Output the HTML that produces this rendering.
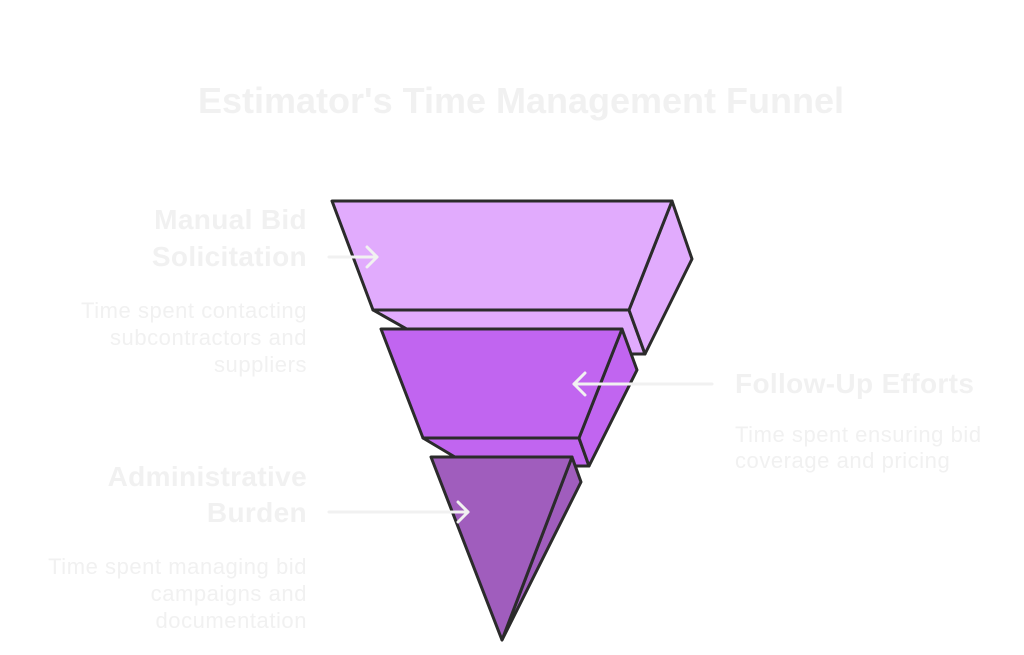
<!DOCTYPE html>
<html>
<head>
<meta charset="utf-8">
<style>
  html,body{margin:0;padding:0;background:#ffffff;}
  svg{display:block;}
  text{font-family:"Liberation Sans", Arial, sans-serif;fill:#f1f1f1;}
  .h{font-weight:bold;font-size:28px;letter-spacing:0.35px;}
  .d{font-size:22px;letter-spacing:0.55px;}
</style>
</head>
<body>
<svg width="1024" height="655" viewBox="0 0 1024 655" xmlns="http://www.w3.org/2000/svg">
  <rect width="1024" height="655" fill="#ffffff"/>

  <!-- Title -->
  <text x="521" y="113" text-anchor="middle" style="font-weight:bold;font-size:36px;">Estimator's Time Management Funnel</text>

  <g stroke="#2b2b2b" stroke-width="3" stroke-linejoin="round">
    <!-- Top segment -->
    <polygon points="373,310 629,310 645,354 451,354" fill="#e1abfd"/>
    <polygon points="672,201 692,259 645,354 629,310" fill="#e1abfd"/>
    <polygon points="332,201 672,201 629,310 373,310" fill="#e1abfd"/>

    <!-- Middle segment -->
    <polygon points="423,438 579,438 589,466 470,466" fill="#c165f0"/>
    <polygon points="622,329 637,370 589,466 579,438" fill="#c165f0"/>
    <polygon points="381,329 622,329 579,438 423,438" fill="#c165f0"/>

    <!-- Bottom triangle -->
    <polygon points="572,457 581,482 502,640" fill="#a05dbd"/>
    <polygon points="431,457 572,457 502,640" fill="#a05dbd"/>
  </g>

  <!-- Arrows -->
  <g stroke="#f1f1f1" stroke-width="3" fill="none" stroke-linecap="round" stroke-linejoin="round">
    <line x1="329" y1="257" x2="377" y2="257"/>
    <polyline points="367,247 377,257 367,267"/>

    <line x1="712" y1="384" x2="574" y2="384"/>
    <polyline points="585,373 574,384 585,395"/>

    <line x1="329" y1="512" x2="468" y2="512"/>
    <polyline points="458,502 468,512 458,522"/>
  </g>

  <!-- Left top labels -->
  <text class="h" x="307" y="229" text-anchor="end">Manual Bid</text>
  <text class="h" x="307" y="266" text-anchor="end">Solicitation</text>
  <text class="d" x="307" y="318" text-anchor="end">Time spent contacting</text>
  <text class="d" x="307" y="345" text-anchor="end">subcontractors and</text>
  <text class="d" x="307" y="372" text-anchor="end">suppliers</text>

  <!-- Right labels -->
  <text class="h" x="735" y="393">Follow-Up Efforts</text>
  <text class="d" x="735" y="442">Time spent ensuring bid</text>
  <text class="d" x="735" y="468">coverage and pricing</text>

  <!-- Left bottom labels -->
  <text class="h" x="307" y="486" text-anchor="end">Administrative</text>
  <text class="h" x="307" y="522" text-anchor="end">Burden</text>
  <text class="d" x="307" y="574" text-anchor="end">Time spent managing bid</text>
  <text class="d" x="307" y="601" text-anchor="end">campaigns and</text>
  <text class="d" x="307" y="628" text-anchor="end">documentation</text>
</svg>
</body>
</html>
